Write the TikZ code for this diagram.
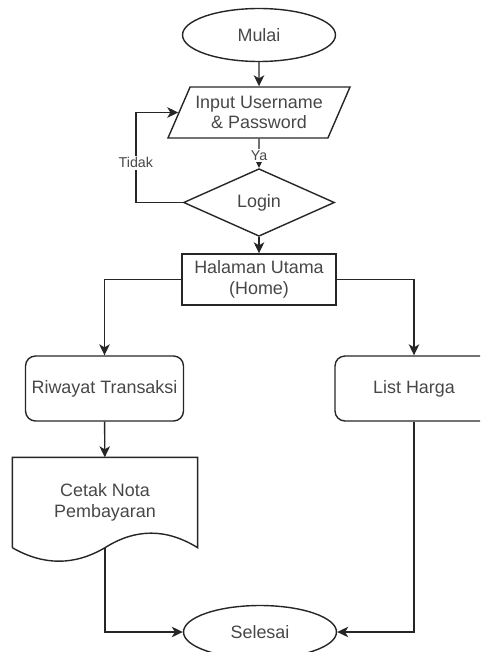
\documentclass[tikz,border=0pt]{standalone}
\usepackage{fontspec}
\setmainfont{Liberation Sans}
\usetikzlibrary{shapes.geometric,arrows.meta}

\tikzset{
  base/.style={draw=black!85, line width=0.8pt, text=black!72, align=center,
    inner sep=1pt, font=\fontsize{10.2}{11.6}\selectfont},
  terminal/.style={base, ellipse, minimum width=3.06cm, minimum height=1.06cm},
  io/.style={base, trapezium, trapezium left angle=60, trapezium right angle=120,
    trapezium stretches=true, minimum width=3.66cm, minimum height=1.02cm},
  decision/.style={base, diamond, minimum width=3.02cm, minimum height=1.02cm},
  process/.style={base, rectangle, minimum width=3.08cm, minimum height=1.02cm},
  menu/.style={base, rectangle, rounded corners=0.2cm, minimum width=3.16cm, minimum height=1.3cm},
  doc/.style={base, draw=none, rectangle, minimum width=3.68cm, minimum height=1.78cm},
  flow/.style={draw=black!85, line width=0.8pt, -{Stealth[length=2.2mm,width=2.1mm,inset=0.6mm]}},
  lbl/.style={fill=white, text=black!72, inner sep=1pt, font=\fontsize{8.1}{9}\selectfont}
}

\begin{document}
\begin{tikzpicture}[x=0.02cm, y=-0.02cm]
  \useasboundingbox (0,0) rectangle (480,652);
  \clip (0,0) rectangle (480,652);

  % simpul
  \node[terminal] (mulai) at (259,35) {Mulai};
  \node[io] (input) at (259,112.5) {Input Username\\ \& Password};
  \node[decision] (login) at (259,202.5) {Login};
  \node[process] (home) at (259,279.5) {Halaman Utama\\ (Home)};
  \node[menu] (riwayat) at (104.5,388.5) {Riwayat Transaksi};
  \node[menu] (harga) at (414,388.5) {List Harga};
  \node[doc] (nota) at (105,502.5) {Cetak Nota\\ Pembayaran};
  \node[terminal] (selesai) at (260,632) {Selesai};

  % bentuk dokumen
  \draw[draw=black!85, line width=0.8pt] (nota.south west) -- (nota.north west) -- (nota.north east)
    -- (nota.south east) .. controls (166.3,528.3) and (135.7,528.3) .. (nota.south)
    .. controls (74.3,565.7) and (43.7,565.7) .. (nota.south west);

  % alur
  \draw[flow] (mulai) -- (input);
  \draw[flow] (input) -- node[lbl, pos=0.58] {Ya} (login);
  \draw[flow] (login.west) -- ++(-47,0) |- node[lbl, pos=0.22] {Tidak} (input.west);
  \draw[flow] (login) -- (home);
  \draw[flow] (home.west) -| (riwayat.north);
  \draw[flow] (home.east) -| (harga.north);
  \draw[flow] (riwayat) -- (nota);
  \draw[flow] (nota.south) |- (selesai.west);
  \draw[flow] (harga.south) |- (selesai.east);
\end{tikzpicture}
\end{document}
